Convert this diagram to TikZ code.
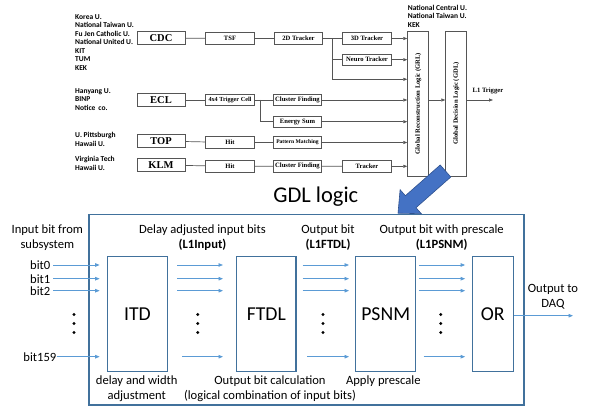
\documentclass[tikz,border=0pt]{standalone}
\usepackage{fontspec}
\usepackage{graphicx}
\setmainfont{Carlito}
\newfontfamily\trigserif{Liberation Serif}
\usetikzlibrary{arrows.meta}
\usetikzlibrary{calc}

\definecolor{gdlblue}{RGB}{65,113,156}
\definecolor{bitblue}{RGB}{91,155,213}
\definecolor{bigarrow}{RGB}{68,114,196}
\definecolor{bigarrowline}{RGB}{47,82,143}
\definecolor{trigline}{RGB}{85,85,85}

\tikzset{
  detbox/.style={draw=trigline, line width=0.9pt, minimum width=48pt, minimum height=13pt, inner sep=0pt, font=\trigserif\bfseries\fontsize{10.5}{11}\selectfont},
  trigbox/.style={draw=trigline, line width=0.8pt, minimum width=48.5pt, minimum height=11.5pt, inner sep=0pt, font=\trigserif\bfseries\fontsize{6.6}{7}\selectfont},
  logicbox/.style={draw=trigline, line width=0.8pt, minimum width=21pt, minimum height=145pt, inner sep=0pt, font=\trigserif\bfseries\fontsize{6.6}{7}\selectfont},
  trigwire/.style={draw=trigline, line width=0.7pt},
  trigarrow/.style={trigwire, -{Triangle[length=4pt,width=3pt]}},
  instlabel/.style={anchor=north west, inner sep=0pt, align=left, font=\bfseries\fontsize{7.5}{8.5}\selectfont},
  gdlblock/.style={draw=gdlblue, line width=1.3pt, minimum height=114.5pt, inner sep=0pt, font=\fontsize{19.7}{20}\selectfont},
  bitarrow/.style={draw=bitblue, line width=0.8pt, -{Triangle[length=4.5pt,width=3.5pt]}},
  gdltext/.style={align=center, inner sep=0pt, font=\fontsize{12.6}{15}\selectfont},
}

\begin{document}
\begin{tikzpicture}[x=1pt, y=-1pt]
  \useasboundingbox (0,0) rectangle (602,411);

  % institutes
  \node[instlabel] (cdcinst) at (75,14.4) {Korea U.\\National Taiwan U.\\Fu Jen Catholic U.\\National United U.\\KIT\\TUM\\KEK};
  \node[instlabel] (eclinst) at (75,88.1) {Hanyang U.\\BINP\\Notice\, co.};
  \node[instlabel] (topinst) at (75,132.4) {U. Pittsburgh\\Hawaii U.};
  \node[instlabel] (klminst) at (75,156.4) {Virginia Tech\\Hawaii U.};
  \node[instlabel] (grlinst) at (407.7,4.7) {National Central U.\\National Taiwan U.\\KEK};

  % subsystem trigger chains
  \node[detbox] (cdc) at (161,38) {CDC};
  \node[detbox] (ecl) at (161,100) {ECL};
  \node[detbox] (top) at (161,141) {TOP};
  \node[detbox] (klm) at (161,165) {KLM};

  \node[trigbox] (tsf) at (230,38.5) {TSF};
  \node[trigbox, font=\trigserif\bfseries\fontsize{6.2}{7}\selectfont] (trigcell) at (230,100) {4x4 Trigger Cell};
  \node[trigbox] (tophit) at (230,142.5) {Hit};
  \node[trigbox] (klmhit) at (230,166.3) {Hit};

  \node[trigbox] (twod) at (298.5,38.5) {2D Tracker};
  \node[trigbox] (eclclust) at (297.5,100) {Cluster Finding};
  \node[trigbox] (esum) at (297.5,121.7) {Energy Sum};
  \node[trigbox, font=\trigserif\bfseries\fontsize{5.6}{6}\selectfont] (pattern) at (297.5,142.5) {Pattern Matching};
  \node[trigbox] (klmclust) at (297.5,166.3) {Cluster Finding};

  \node[trigbox] (threed) at (367,38.5) {3D Tracker};
  \node[trigbox] (neuro) at (367,59.7) {Neuro Tracker};
  \node[trigbox] (tracker) at (367,166.3) {Tracker};

  \node[logicbox] (grl) at (418.2,103.5) {\rotatebox{90}{Global Reconstruction Logic (GRL)}};
  \node[logicbox] (gdl) at (456.2,103.5) {\rotatebox{90}{Global Decision Logic (GDL)}};

  \coordinate (cdcsplit) at (332,38.5);
  \coordinate (cdcbypass) at (332,79.3);
  \coordinate (eclsplit) at (260,100);
  \coordinate (lonetrig) at (493,100);

  \draw[trigwire] (cdc) -- (tsf) -- (twod) -- (threed);
  \draw[trigwire] (cdcsplit) |- (neuro);
  \draw[trigwire] (cdcsplit) -- (cdcbypass);
  \draw[trigwire] (ecl) -- (trigcell) -- (eclclust);
  \draw[trigwire] (eclsplit) |- (esum);
  \draw[trigwire] (top) -- (tophit) -- (pattern);
  \draw[trigwire] (klm) -- (klmhit) -- (klmclust) -- (tracker);

  \draw[trigarrow] (threed) -- (threed -| grl.west);
  \draw[trigarrow] (neuro) -- (neuro -| grl.west);
  \draw[trigarrow] (cdcbypass) -- (cdcbypass -| grl.west);
  \draw[trigarrow] (eclclust) -- (eclclust -| grl.west);
  \draw[trigarrow] (esum) -- (esum -| grl.west);
  \draw[trigarrow] (pattern) -- (pattern -| grl.west);
  \draw[trigarrow] (tracker) -- (tracker -| grl.west);
  \draw[trigarrow] (grl.east |- eclclust) -- (gdl.west |- eclclust);
  \draw[trigarrow] (gdl.east |- eclclust) -- (lonetrig);
  \node[anchor=west, inner sep=0pt, font=\trigserif\bfseries\fontsize{6.6}{7}\selectfont] (lonelabel) at (472.5,91) {L1 Trigger};

  % GDL logic
  \node[font=\fontsize{22.5}{22.5}\selectfont] (gdltitle) at (315.8,197) {GDL logic};
  \node[draw=gdlblue, line width=1.3pt, minimum width=435pt, minimum height=190.7pt, inner sep=0pt] (gdlframe) at (306.5,309.7) {};

  \draw[bigarrowline, fill=bigarrow, line width=0.6pt, line join=miter] (440.2,165) -- (450.8,177) -- (416,207.7) -- (421.3,213.7) -- (398,213.2) -- (400.1,189.7) -- (405.4,195.7) -- cycle;

  \node[gdlblock, minimum width=60.4pt] (itd) at (137.5,314) {ITD};
  \node[gdlblock, minimum width=59.3pt] (ftdl) at (266.3,314) {FTDL};
  \node[gdlblock, minimum width=60pt] (psnm) at (385.7,314) {PSNM};
  \node[gdlblock, minimum width=41pt] (orgate) at (492.8,314) {OR};

  \node[gdltext] (inputnote) at (47.3,237.5) {Input bit from\\subsystem};
  \node[gdltext] (linputnote) at (202.5,237.5) {Delay adjusted input bits\\\textbf{(L1Input)}};
  \node[gdltext] (lftdlnote) at (328,237.5) {Output bit\\\textbf{(L1FTDL)}};
  \node[gdltext] (lpsnmnote) at (441.7,237.5) {Output bit with prescale\\\textbf{(L1PSNM)}};
  \node[gdltext] (itdnote) at (136.7,388.5) {delay and width\\adjustment};
  \node[gdltext] (ftdlnote) at (270,388.5) {Output bit calculation\\(logical combination of input bits)};
  \node[gdltext] (psnmnote) at (383.3,381.5) {Apply prescale};
  \node[gdltext] (daqlabel) at (553,296.5) {Output to\\DAQ};

  \coordinate (row0) at (0,265);
  \coordinate (row1) at (0,278.7);
  \coordinate (row2) at (0,290.7);
  \coordinate (row159) at (0,356.7);
  \coordinate (daq) at (573,315.7);

  \foreach \b/\y in {0/265,1/278.7,2/290.7}
    \node[gdltext, anchor=east] (bit\b) at (50.5,\y) {bit\b};
  \node[gdltext, anchor=east] (bit159) at (56.5,356.7) {bit159};

  \foreach \b in {0,1,2}
    \draw[bitarrow, shorten <=2.5pt, shorten >=7pt] (bit\b.east) -- (itd.west |- bit\b.east);
  \draw[bitarrow, shorten >=7pt] (bit159.east) -- (itd.west |- bit159.east);

  \foreach \r in {row0,row1,row2} {
    \draw[bitarrow, shorten <=9pt, shorten >=13pt] (itd.east |- \r) -- (ftdl.west |- \r);
    \draw[bitarrow, shorten <=6pt, shorten >=6pt] (ftdl.east |- \r) -- (psnm.west |- \r);
    \draw[bitarrow, shorten <=2.5pt, shorten >=6.5pt] (psnm.east |- \r) -- (orgate.west |- \r);
  }
  \draw[bitarrow, shorten <=14pt, shorten >=13pt] (itd.east |- row159) -- (ftdl.west |- row159);
  \draw[bitarrow, shorten <=10.5pt, shorten >=6pt] (ftdl.east |- row159) -- (psnm.west |- row159);
  \draw[bitarrow, shorten <=7.3pt, shorten >=6.5pt] (psnm.east |- row159) -- (orgate.west |- row159);
  \draw[bitarrow] (orgate.east |- daq) -- (daq);

  \foreach \x in {74,197.7,323,440.7}
    \foreach \y in {314.5,323.5,332.5}
      \fill (\x,\y) circle (1.7pt);
\end{tikzpicture}
\end{document}
